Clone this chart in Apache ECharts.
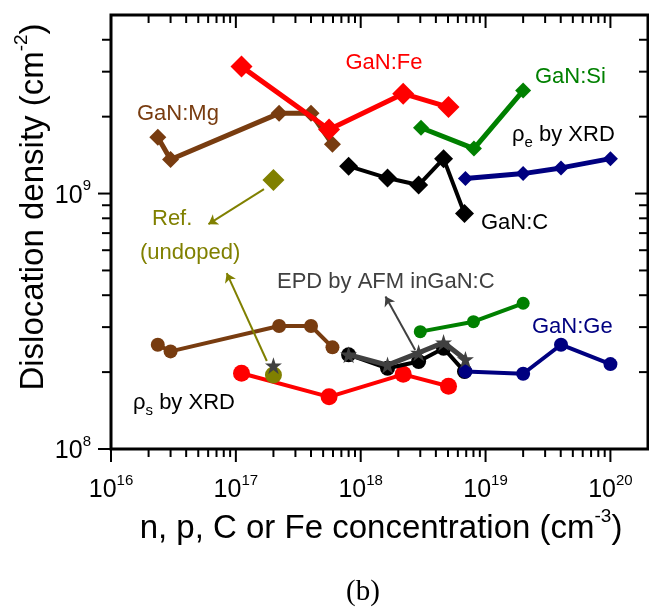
<!DOCTYPE html>
<html>
<head>
<meta charset="utf-8">
<script src="https://cdn.jsdelivr.net/npm/echarts@6/dist/echarts.min.js"></script>
<style>html,body{margin:0;padding:0;background:#fff;}#c{width:649px;height:610px;}</style>
</head>
<body>
<div id="c"></div>
<script>
// ---- data (x: concentration cm^-3, y: dislocation density cm^-2) ----
var mgE = [[2.37e16,1.66e9],[3.0e16,1.36e9],[2.22e17,2.06e9],[4.0e17,2.06e9],[5.94e17,1.56e9]];
var mgS = [[2.37e16,2.56e8],[3.0e16,2.41e8],[2.22e17,3.03e8],[4.0e17,3.03e8],[5.94e17,2.50e8]];
var feE = [[1.11e17,3.14e9],[5.58e17,1.78e9],[2.19e18,2.46e9],[5.05e18,2.18e9]];
var feS = [[1.11e17,1.98e8],[5.58e17,1.60e8],[2.19e18,1.96e8],[5.05e18,1.76e8]];
var cE  = [[8.0e17,1.28e9],[1.64e18,1.15e9],[2.91e18,1.08e9],[4.61e18,1.37e9],[6.78e18,8.35e8]];
var cS  = [[8.0e17,2.34e8],[1.64e18,2.07e8],[2.91e18,2.20e8],[4.61e18,2.48e8],[6.78e18,2.01e8]];
var epd = [[8.0e17,2.34e8],[1.64e18,2.13e8],[2.91e18,2.38e8],[4.61e18,2.61e8],[6.9e18,2.24e8]];
var siE = [[3.04e18,1.81e9],[8.07e18,1.50e9],[2.0e19,2.53e9]];
var siS = [[3.0e18,2.88e8],[8.0e18,3.15e8],[2.0e19,3.72e8]];
var geE = [[6.9e18,1.145e9],[2.0e19,1.197e9],[4.02e19,1.26e9],[1.0e20,1.37e9]];
var geS = [[6.9e18,2.01e8],[2.0e19,1.97e8],[4.02e19,2.56e8],[1.0e20,2.15e8]];
var refE = [[2.0e17,1.13e9]];
var refS = [[2.0e17,1.95e8]];
var refStar = [[2.0e17,2.12e8]];
// annotation arrows [from, to]
var arrowsRef = [[[1.68e17,1.04e9],[6.03e16,7.59e8]],[[1.77e17,2.21e8],[8.45e16,4.88e8]]];
var arrowsEpd = [[[2.73e18,2.44e8],[1.58e18,3.95e8]]];
// axes
var X_MIN = 1e16, X_MAX = 2e20, Y_MIN = 1e8, Y_MAX = 5e9;
var xMajor = [1e16,1e17,1e18,1e19,1e20];
var xDecades = [1e16,1e17,1e18,1e19];
var yMajor = [1e8,1e9];
var yMinorList = [2e8,3e8,4e8,5e8,6e8,7e8,8e8,9e8,2e9,3e9,4e9];
var mantissas = [2,3,4,5,6,7,8,9];

var xTicks = [];
xMajor.forEach(function(v){ xTicks.push([v, Y_MIN, 1]); });
xDecades.forEach(function(d){ mantissas.forEach(function(m){ xTicks.push([m*d, Y_MIN, 0]); }); });
var yTicks = [];
yMajor.forEach(function(v){ yTicks.push([X_MIN, v, 1]); });
yMinorList.forEach(function(v){ yTicks.push([X_MIN, v, 0]); });

var chart = echarts.init(document.getElementById('c'), null, {renderer:'canvas'});
var FONT = 'Liberation Sans, Arial, sans-serif';
var STAR = 'path://M50,0 L61.8,35.4 L100,35.4 L69.1,57.3 L80.9,95.1 L50,72 L19.1,95.1 L30.9,57.3 L0,35.4 L38.2,35.4 Z';

function powLabel(v){
  var l = Math.log10(v), e = Math.round(l);
  if (Math.abs(l - e) > 1e-6) return '';
  return '{b|10}{s|' + e + '}';
}
var tickRich = {
  b:{fontSize:25, fontFamily:FONT, color:'#000', lineHeight:30, verticalAlign:'bottom'},
  s:{fontSize:15, fontFamily:FONT, color:'#000', lineHeight:17, verticalAlign:'top'}
};

function lineSeries(data, color, symbol, size, width, z){
  return {type:'line', data:data, symbol:symbol, symbolSize:size, showSymbol:true,
    lineStyle:{color:color, width:width}, itemStyle:{color:color, borderWidth:0},
    z:z, silent:true, animation:false, clip:false};
}

var BROWN = '#783c10', RED = '#ff0000', GREEN = '#008000', NAVY = '#000080', OLIVE = '#808000', GRAY = '#404040';

chart.setOption({
  animation:false,
  grid:{left:111, right:1, top:15, bottom:161, show:true, borderColor:'#000', borderWidth:3, backgroundColor:'transparent'},
  xAxis:{type:'log', logBase:10, min:X_MIN, max:X_MAX,
    axisLine:{show:false}, axisTick:{show:false}, splitLine:{show:false}, minorTick:{show:false},
    axisLabel:{formatter:powLabel, rich:tickRich, margin:24, showMaxLabel:false}},
  yAxis:{type:'log', logBase:10, min:Y_MIN, max:Y_MAX,
    axisLine:{show:false}, axisTick:{show:false}, splitLine:{show:false}, minorTick:{show:false},
    axisLabel:{formatter:powLabel, rich:tickRich, margin:20, showMaxLabel:false}},
  series:[
    lineSeries(mgE, BROWN, 'diamond', 17, 5, 2),
    lineSeries(mgS, BROWN, 'circle', 14, 4, 2),
    lineSeries(feE, RED, 'diamond', 22, 5, 3),
    lineSeries(feS, RED, 'circle', 17, 4, 3),
    lineSeries(cE, '#000', 'diamond', 19, 4, 4),
    lineSeries(cS, '#000', 'circle', 15, 4, 4),
    lineSeries(siE, GREEN, 'diamond', 16, 5, 5),
    lineSeries(siS, GREEN, 'circle', 13, 4, 5),
    lineSeries(geE, NAVY, 'diamond', 15, 5, 6),
    lineSeries(geS, NAVY, 'circle', 14, 4, 6),
    lineSeries(refE, OLIVE, 'diamond', 22, 0, 7),
    lineSeries(refS, OLIVE, 'circle', 17, 0, 7),
    lineSeries(epd, GRAY, STAR, 17, 5, 8),
    lineSeries(refStar, GRAY, STAR, 17, 0, 8),
    {type:'lines', coordinateSystem:'cartesian2d', z:9, silent:true, animation:false,
      symbol:['none','arrow'], symbolSize:9,
      lineStyle:{color:OLIVE, width:2, opacity:1},
      data:arrowsRef.map(function(a){ return {coords:a}; })},
    {type:'lines', coordinateSystem:'cartesian2d', z:9, silent:true, animation:false,
      symbol:['none','arrow'], symbolSize:9,
      lineStyle:{color:GRAY, width:2, opacity:1},
      data:arrowsEpd.map(function(a){ return {coords:a}; })},
    {type:'custom', silent:true, animation:false, clip:false, z:10, data:xTicks,
      renderItem:function(params, api){
        var p = api.coord([api.value(0), api.value(1)]);
        var cs = params.coordSys, len = api.value(2) ? 13 : 8;
        var b = cs.y + cs.height, t = cs.y;
        var st = {stroke:'#000', lineWidth:2};
        return {type:'group', children:[
          {type:'line', shape:{x1:p[0], y1:b, x2:p[0], y2:b+len}, style:st},
          {type:'line', shape:{x1:p[0], y1:t, x2:p[0], y2:t+len}, style:st}
        ]};
      }},
    {type:'custom', silent:true, animation:false, clip:false, z:10, data:yTicks,
      renderItem:function(params, api){
        var p = api.coord([api.value(0), api.value(1)]);
        var cs = params.coordSys, len = api.value(2) ? 13 : 9;
        var l = cs.x, r = cs.x + cs.width;
        var st = {stroke:'#000', lineWidth:2};
        return {type:'group', children:[
          {type:'line', shape:{x1:l, y1:p[1], x2:l-len, y2:p[1]}, style:st},
          {type:'line', shape:{x1:r, y1:p[1], x2:r-len, y2:p[1]}, style:st}
        ]};
      }}
  ],
  graphic:[
    {type:'text', x:384, y:63, style:{text:'GaN:Fe', fill:RED, font:'22px '+FONT, align:'center', verticalAlign:'middle'}},
    {type:'text', x:137, y:114, style:{text:'GaN:Mg', fill:BROWN, font:'22px '+FONT, align:'left', verticalAlign:'middle'}},
    {type:'text', x:535, y:77, style:{text:'GaN:Si', fill:GREEN, font:'22px '+FONT, align:'left', verticalAlign:'middle'}},
    {type:'text', x:512, y:137, style:{text:'{a|ρ}{e|e}{a| by XRD}', align:'left', verticalAlign:'middle',
      rich:{a:{fontSize:22, fontFamily:FONT, color:'#000', lineHeight:26, verticalAlign:'top'},
            e:{fontSize:15, fontFamily:FONT, color:'#000', lineHeight:16, verticalAlign:'bottom'}}}},
    {type:'text', x:481, y:223, style:{text:'GaN:C', fill:'#000', font:'22px '+FONT, align:'left', verticalAlign:'middle'}},
    {type:'text', x:152, y:219, style:{text:'Ref.', fill:OLIVE, font:'22px '+FONT, align:'left', verticalAlign:'middle'}},
    {type:'text', x:140, y:253, style:{text:'(undoped)', fill:OLIVE, font:'22px '+FONT, align:'left', verticalAlign:'middle'}},
    {type:'text', x:277, y:282, style:{text:'EPD by AFM inGaN:C', fill:GRAY, font:'22px '+FONT, align:'left', verticalAlign:'middle'}},
    {type:'text', x:532, y:327, style:{text:'GaN:Ge', fill:NAVY, font:'22px '+FONT, align:'left', verticalAlign:'middle'}},
    {type:'text', x:133, y:405, style:{text:'{a|ρ}{e|s}{a| by XRD}', align:'left', verticalAlign:'middle',
      rich:{a:{fontSize:22, fontFamily:FONT, color:'#000', lineHeight:26, verticalAlign:'top'},
            e:{fontSize:15, fontFamily:FONT, color:'#000', lineHeight:16, verticalAlign:'bottom'}}}},
    {type:'text', x:381, y:526, style:{text:'{t|n, p, C or Fe concentration (cm}{s|-3}{t|)}', align:'center', verticalAlign:'middle',
      rich:{t:{fontSize:33, fontFamily:FONT, color:'#000', lineHeight:38, verticalAlign:'bottom'},
            s:{fontSize:19, fontFamily:FONT, color:'#000', lineHeight:21, verticalAlign:'top'}}}},
    {type:'text', x:31, y:207, rotation:Math.PI/2, style:{text:'{t|Dislocation density (cm}{s|-2}{t|)}', align:'center', verticalAlign:'middle',
      rich:{t:{fontSize:33, fontFamily:FONT, color:'#000', lineHeight:38, verticalAlign:'bottom'},
            s:{fontSize:19, fontFamily:FONT, color:'#000', lineHeight:21, verticalAlign:'top'}}}},
    {type:'text', x:363, y:592, style:{text:'(b)', fill:'#000', font:'29px Liberation Serif, Times New Roman, serif', align:'center', verticalAlign:'middle'}}
  ]
});
</script>
</body>
</html>
